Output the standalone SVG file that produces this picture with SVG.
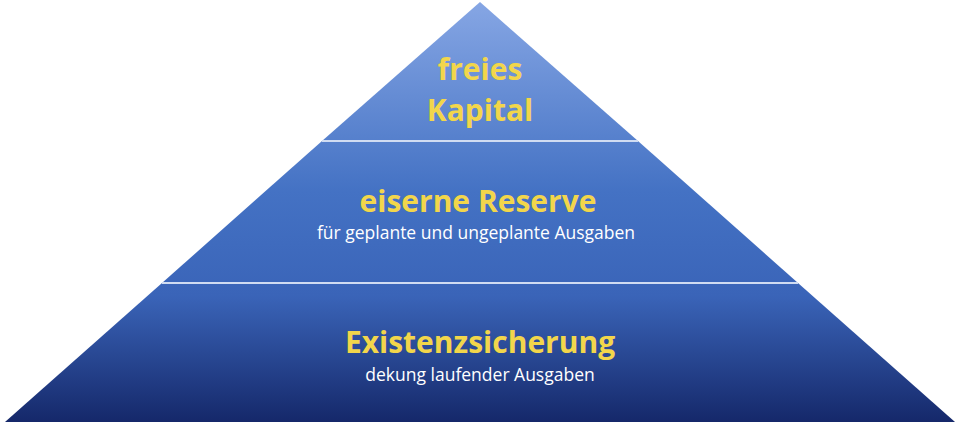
<svg xmlns="http://www.w3.org/2000/svg" width="960" height="427" viewBox="0 0 960 427">
<defs>
<linearGradient id="g" x1="0" y1="2" x2="0" y2="422" gradientUnits="userSpaceOnUse">
<stop offset="0" stop-color="#86a6e4"/>
<stop offset="0.45" stop-color="#4472c4"/>
<stop offset="0.7" stop-color="#3a64b8"/>
<stop offset="1" stop-color="#15286a"/>
</linearGradient>
<style>
.l{fill:url(#g);stroke:none}
.d{stroke:#d0dcf2;stroke-width:2}
.t{font-family:"Open Sans","Liberation Sans",sans-serif;font-weight:bold;fill:#f2d64b;text-anchor:middle;font-size:30px}
.s{font-family:"Open Sans","Liberation Sans",sans-serif;fill:#ffffff;text-anchor:middle;font-size:17.5px}
</style>
</defs>
<rect width="960" height="427" fill="#ffffff"/>
<g id="top"><path class="l" d="M480,2 L638,141 L322,141 Z"/>
<text class="t" x="480" y="80">freies</text><text class="t" x="480" y="121">Kapital</text></g>
<g id="middle"><path class="l" d="M322,141 L638,141 L798,283 L162,283 Z"/>
<text class="t" x="478" y="212">eiserne Reserve</text><text class="s" x="476" y="239">für geplante und ungeplante Ausgaben</text></g>
<g id="bottom"><path class="l" d="M162,283 L798,283 L955,422 L5,422 Z"/>
<text class="t" x="480" y="353">Existenzsicherung</text><text class="s" x="480" y="381">dekung laufender Ausgaben</text></g>
<g id="connectors"><line class="d" x1="322" y1="141" x2="638" y2="141"/><line class="d" x1="162" y1="283" x2="798" y2="283"/></g>
</svg>
